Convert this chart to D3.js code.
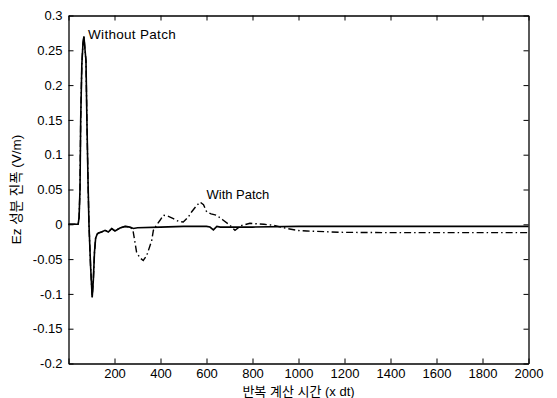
<!DOCTYPE html>
<html><head><meta charset="utf-8">
<script src="https://cdn.jsdelivr.net/npm/d3@7"></script>
<style>
html,body{margin:0;padding:0;background:#fff;}
svg{display:block;}
text{font-family:"Liberation Sans","Noto Sans CJK KR",Arial,sans-serif;fill:#000;}
</style></head><body>
<svg id="c" width="557" height="398"></svg>
<script>
// ---- data ----
const xTicks = [0,200,400,600,800,1000,1200,1400,1600,1800,2000];
const xTickLabels = ["","200","400","600","800","1000","1200","1400","1600","1800","2000"];
const yTicks = [-0.2,-0.15,-0.1,-0.05,0,0.05,0.1,0.15,0.2,0.25,0.3];
const yTickLabels = ["-0.2","-0.15","-0.1","-0.05","0","0.05","0.1","0.15","0.2","0.25","0.3"];

const withoutX = [0,42,46,50,53,58,63,67,72,76,80,85,89,96,103,108,113,118,125,130,144,159,173,188,202,224,246,267,282,300,400,500,600,615,630,645,660,700,800,1000,1500,2000];
const withoutY = [0,0,0.01,0.05,0.15,0.23,0.26,0.27,0.25,0.235,0.15,0.06,0,-0.06,-0.105,-0.08,-0.04,-0.02,-0.014,-0.0125,-0.011,-0.0086,-0.011,-0.0062,-0.0096,-0.0053,-0.003,-0.004,-0.006,-0.005,-0.004,-0.003,-0.003,-0.004,-0.008,-0.003,-0.004,-0.004,-0.004,-0.003,-0.003,-0.003];

const withX = [0,42,46,50,53,58,63,67,72,76,80,85,89,96,103,108,113,118,125,130,144,159,173,188,202,224,246,267,280,296,310,325,340,355,362,369,385,398,412,430,456,480,499,520,535,555,572,587,601,620,644,660,673,702,724,750,789,850,890,950,1000,1036,1180,1400,1600,1800,2000];
const withY = [0,0,0.01,0.05,0.15,0.23,0.26,0.27,0.25,0.235,0.15,0.06,0,-0.06,-0.105,-0.08,-0.04,-0.02,-0.014,-0.0125,-0.011,-0.0086,-0.011,-0.0062,-0.0096,-0.0053,-0.003,-0.004,-0.008,-0.04,-0.048,-0.052,-0.045,-0.03,-0.023,-0.0086,0.0,0.0058,0.013,0.012,0.008,0.004,0.0033,0.01,0.0177,0.026,0.032,0.028,0.0177,0.015,0.013,0.009,0.0058,-0.0014,-0.0086,-0.002,0.0014,0.0,-0.0014,-0.006,-0.009,-0.0096,-0.0115,-0.012,-0.012,-0.012,-0.012];

const xLabel = "반복 계산 시간 (x dt)";
const yLabel = "Ez 성분 진폭 (V/m)";
const annotWithout = "Without Patch";
const annotWith = "With Patch";

// ---- chart ----
const svg = d3.select("#c");
const L = 68.5, R = 528.5, T = 15.5, B = 363.5;
const x = d3.scaleLinear().domain([0,2000]).range([L,R]);
const y = d3.scaleLinear().domain([-0.2,0.3]).range([B,T]);

const line = d3.line().x(d=>x(d[0])).y(d=>y(d[1]));
const withoutData = withoutX.map((v,i)=>[v,withoutY[i]]);
const withData = withX.map((v,i)=>[v,withY[i]]);

svg.append("path").datum(withData).attr("d",line)
  .attr("fill","none").attr("stroke","#000").attr("stroke-width",1.4)
  .attr("stroke-dasharray","7,3,1.5,3");
svg.append("path").datum(withoutData).attr("d",line)
  .attr("fill","none").attr("stroke","#000").attr("stroke-width",1.6);

// axes
const fmtX = (d,i)=>xTickLabels[i];
const fmtY = (d,i)=>yTickLabels[i];
const gx = svg.append("g").attr("transform",`translate(0,${B})`)
  .call(d3.axisBottom(x).tickValues(xTicks).tickFormat(fmtX).tickSizeInner(-5).tickSizeOuter(0).tickPadding(5));
const gxt = svg.append("g").attr("transform",`translate(0,${T})`)
  .call(d3.axisTop(x).tickValues(xTicks).tickFormat("").tickSizeInner(-5).tickSizeOuter(0));
const gy = svg.append("g").attr("transform",`translate(${L},0)`)
  .call(d3.axisLeft(y).tickValues(yTicks).tickFormat(fmtY).tickSizeInner(-5).tickSizeOuter(0).tickPadding(6));
const gyr = svg.append("g").attr("transform",`translate(${R},0)`)
  .call(d3.axisRight(y).tickValues(yTicks).tickFormat("").tickSizeInner(-5).tickSizeOuter(0));
[gx,gxt,gy,gyr].forEach(g=>{
  g.selectAll("path").attr("stroke","#000").attr("stroke-width",1.3);
  g.selectAll("line").attr("stroke","#000").attr("stroke-width",1);
  g.selectAll("text").attr("font-size",13).attr("font-family",'"Liberation Sans",Arial,sans-serif').attr("fill","#000");
});

// labels
svg.append("text").attr("x",(L+R)/2).attr("y",396).attr("text-anchor","middle")
  .attr("font-size",13).text(xLabel);
svg.append("text").attr("transform",`translate(21,${(T+B)/2}) rotate(-90)`)
  .attr("text-anchor","middle").attr("font-size",13.5).text(yLabel);

// annotations
svg.append("text").attr("x",x(85)).attr("y",y(0.266)).attr("font-size",13.5).attr("letter-spacing",0.3).text(annotWithout);
svg.append("text").attr("x",x(600)).attr("y",y(0.036)).attr("font-size",13).text(annotWith);
</script>
</body></html>
